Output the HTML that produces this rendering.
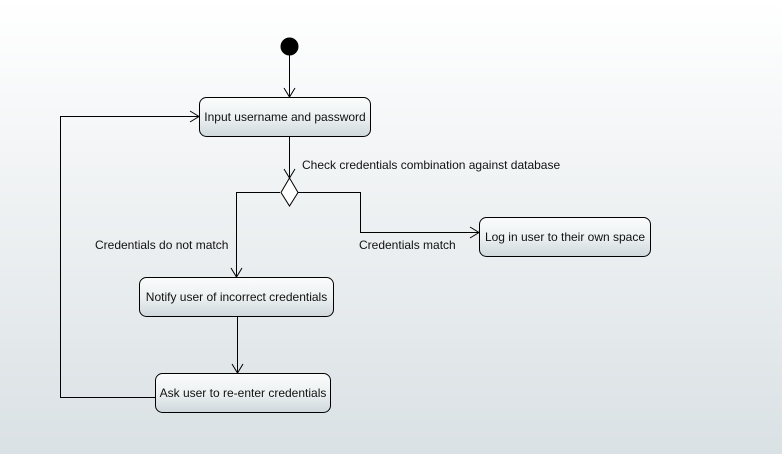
<!DOCTYPE html>
<html><head><style>
html,body{margin:0;padding:0;}
body{width:782px;height:454px;overflow:hidden;background:linear-gradient(#ffffff,#dae1e4);}
svg text{font-family:"Liberation Sans",sans-serif;font-size:12px;fill:#111;}
</style></head><body>
<svg width="782" height="454" viewBox="0 0 782 454" xmlns="http://www.w3.org/2000/svg">
<defs>
<linearGradient id="g" x1="0" y1="0" x2="0" y2="1">
<stop offset="0" stop-color="#fbfcfc"/><stop offset="0.5" stop-color="#edf1f2"/><stop offset="1" stop-color="#cfd8dc"/>
</linearGradient>
</defs>
<g fill="none" stroke="#000" stroke-width="1">
<path d="M289.5 55 V97"/><path d="M284 88 L289.5 97 L295 88"/>
<path d="M289.5 136 V178"/><path d="M284 169 L289.5 178 L295 169"/>
<path d="M280 192.5 H236.5 V277"/><path d="M231 268 L236.5 277 L242 268"/>
<path d="M298 192.5 H360.5 V232.5 H479"/><path d="M470 227 L479 232.5 L470 238"/>
<path d="M237.5 316 V373"/><path d="M232 364 L237.5 373 L243 364"/>
<path d="M155 397.5 H60.5 V116.5 H199"/><path d="M190 111 L199 116.5 L190 122"/>
</g>
<circle cx="289.5" cy="46.5" r="9" fill="#000"/>
<path d="M289.5 178 L298 192.5 L289.5 206 L281 192.5 Z" fill="#fff" stroke="#000"/>
<g fill="url(#g)" stroke="#000">
<rect x="199.5" y="97.5" width="171" height="39" rx="7"/>
<rect x="479.5" y="217.5" width="171" height="39" rx="7"/>
<rect x="139.5" y="277.5" width="194" height="39" rx="7"/>
<rect x="155.5" y="373.5" width="175" height="39" rx="7"/>
</g>
<text x="285" y="121" text-anchor="middle">Input username and password</text>
<text x="565" y="241" text-anchor="middle">Log in user to their own space</text>
<text x="236.5" y="301" text-anchor="middle">Notify user of incorrect credentials</text>
<text x="243" y="397" text-anchor="middle">Ask user to re-enter credentials</text>
<text x="302" y="169">Check credentials combination against database</text>
<text x="95" y="249">Credentials do not match</text>
<text x="359" y="249">Credentials match</text>
</svg>
</body></html>
